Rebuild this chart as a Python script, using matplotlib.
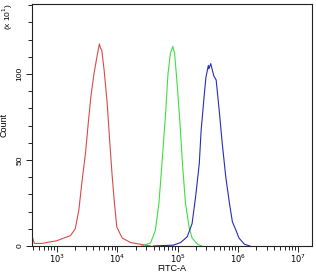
import matplotlib
matplotlib.use("Agg")
import matplotlib.pyplot as plt
import numpy as np
from matplotlib.ticker import LogLocator, FixedLocator, NullFormatter

plt.rcParams['font.family'] = ['Liberation Sans', 'DejaVu Sans']

# log10(FITC-A) positions and counts
red_log = [2.58, 2.59, 2.62, 2.75, 2.90, 2.99, 3.10, 3.22, 3.30, 3.36, 3.41, 3.47, 3.52, 3.56,
           3.61, 3.63, 3.66, 3.70, 3.72, 3.74, 3.78, 3.83, 3.87, 3.91, 3.95, 3.99, 4.08,
           4.22, 4.38, 4.55]
red_cnt = [1, 5, 1.5, 1.5, 2.5, 3, 4.5, 6, 10, 21, 37, 54, 73, 87,
           100, 104, 110, 117.5, 115, 114, 102, 83, 62, 42, 25, 11, 4.6,
           2, 1, 0]

green_log = [4.40, 4.55, 4.63, 4.69, 4.74, 4.80, 4.84, 4.88, 4.92, 4.95, 4.99, 5.04, 5.08,
             5.13, 5.19, 5.24, 5.33, 5.40]
green_cnt = [0, 1.7, 9, 25, 48, 77, 100, 112, 116, 112, 95, 71, 48,
             25, 11, 4.6, 1, 0]

blue_log = [4.60, 4.93, 5.05, 5.16, 5.24, 5.30, 5.36, 5.39, 5.44, 5.47, 5.51, 5.52, 5.55,
            5.60, 5.64, 5.69, 5.74, 5.80, 5.86, 5.91, 5.97, 6.02, 6.11, 6.20]
blue_cnt = [0, 0.5, 2, 5.4, 13, 29, 48, 67, 87, 98, 105, 103, 106,
            99, 96.5, 79, 60, 40, 25, 14, 9, 4.6, 1, 0]

y_ticks = [0, 50, 100]
x_ticks = [1e3, 1e4, 1e5, 1e6, 1e7]
x_labels = ['$10^3$', '$10^4$', '$10^5$', '$10^6$', '$10^7$']

fig = plt.figure(figsize=(3.16, 2.75), dpi=100)
ax = fig.add_axes([0.101, 0.1055, 0.886, 0.88])

ax.plot(10 ** np.array(red_log), red_cnt, color='#d94a4a', lw=0.8)
ax.plot(10 ** np.array(green_log), green_cnt, color='#3ee03e', lw=0.8)
ax.plot(10 ** np.array(blue_log), blue_cnt, color='#2a2ab8', lw=0.8)

ax.set_xscale('log')
ax.set_xlim(10 ** 2.58, 10 ** 7.23)
ax.set_ylim(0, 140.7)

ax.xaxis.set_major_locator(FixedLocator(x_ticks))
ax.set_xticklabels(x_labels, fontsize=6)
ax.xaxis.set_minor_locator(LogLocator(base=10, subs=np.arange(2, 10)))
ax.xaxis.set_minor_formatter(NullFormatter())

ax.set_yticks(y_ticks)
ax.set_yticklabels([str(v) for v in y_ticks], fontsize=6, rotation=90, va='center')
ax.set_yticks(np.arange(0, 141, 10), minor=True)

ax.tick_params(axis='x', which='major', length=4, width=0.6, direction='out', pad=1)
ax.tick_params(axis='y', which='major', length=4, width=0.6, direction='out', pad=2)
ax.tick_params(axis='both', which='minor', length=3, width=0.6, direction='out')

for s in ax.spines.values():
    s.set_linewidth(0.8)
    s.set_color('#222222')

fig.text(0.5 * (0.101 + 0.987), 0.024, 'FITC-A', fontsize=6.5, ha='center', va='center')
ax.set_ylabel('Count', fontsize=6.5, labelpad=6)
fig.text(0.025, 0.99, '(x 10$^1$)', rotation=90, fontsize=6, ha='center', va='top')

fig.savefig('out.png', dpi=100)
